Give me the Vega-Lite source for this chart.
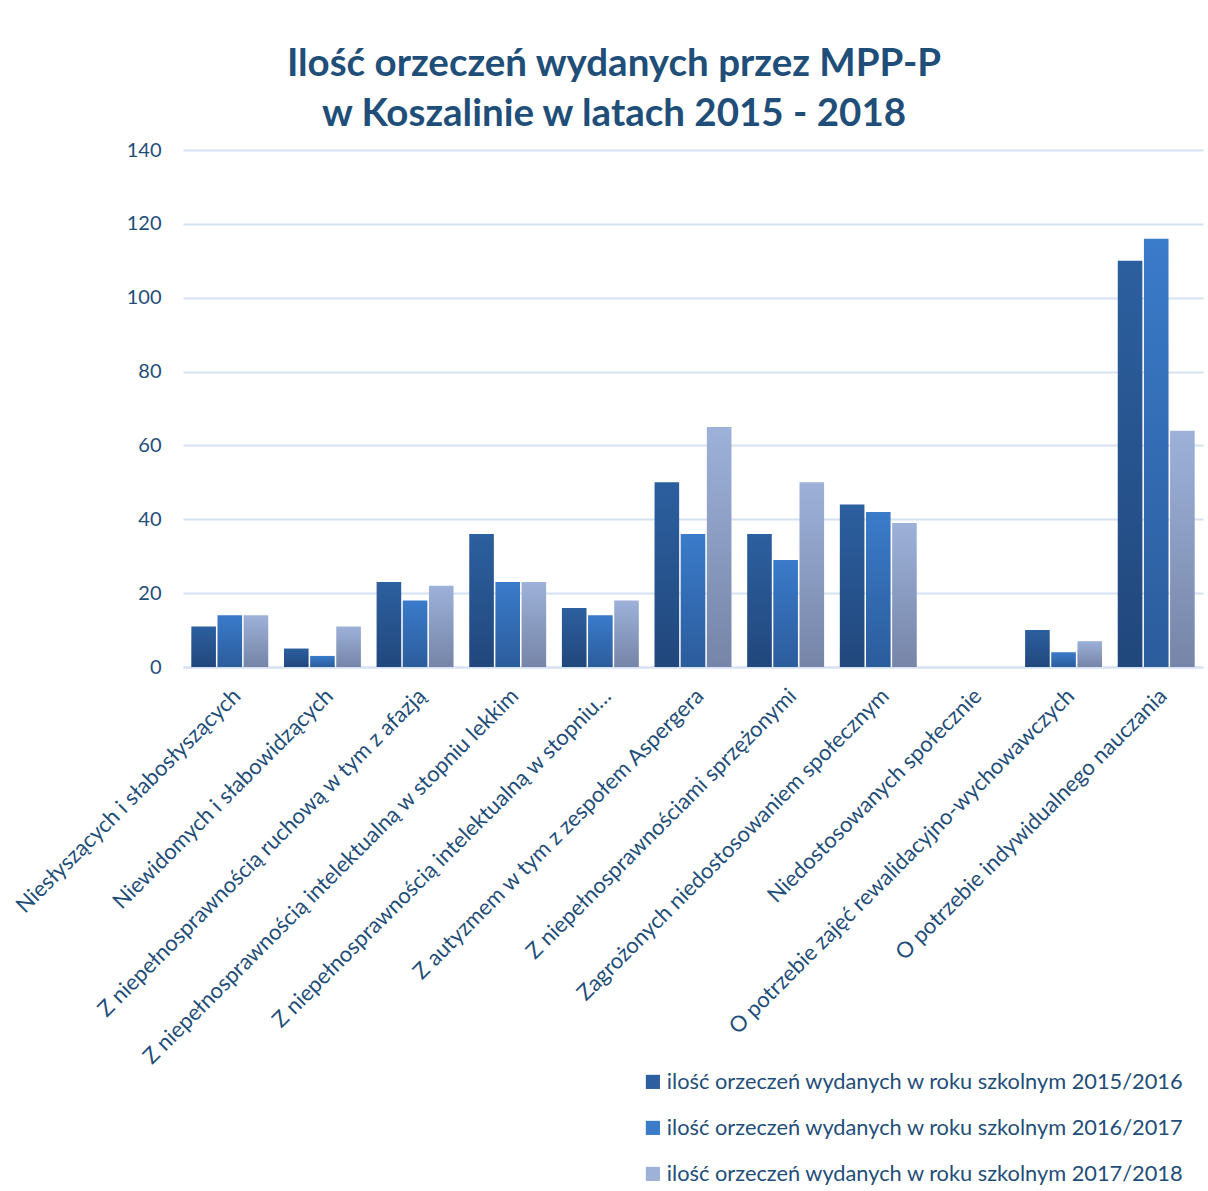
{
  "$schema": "https://vega.github.io/schema/vega-lite/v6.json",
  "autosize": {"type": "none"},
  "width": 1020,
  "height": 517,
  "padding": {"left": 183, "top": 150, "right": 5, "bottom": 524},
  "background": "white",
  "title": {
    "text": ["Ilość orzeczeń wydanych przez MPP-P", "w Koszalinie w latach 2015 - 2018"],
    "font": "Lato",
    "fontSize": 38.5,
    "fontWeight": "bold",
    "color": "#1F4E79",
    "lineHeight": 50,
    "anchor": "middle",
    "frame": "group",
    "dx": -79,
    "offset": 6
  },
  "data": {
    "values": [
      {"kategoria": "Niesłyszących i słabosłyszących", "rok": "ilość orzeczeń wydanych w roku szkolnym 2015/2016", "wartosc": 11},
      {"kategoria": "Niesłyszących i słabosłyszących", "rok": "ilość orzeczeń wydanych w roku szkolnym 2016/2017", "wartosc": 14},
      {"kategoria": "Niesłyszących i słabosłyszących", "rok": "ilość orzeczeń wydanych w roku szkolnym 2017/2018", "wartosc": 14},
      {"kategoria": "Niewidomych i słabowidzących", "rok": "ilość orzeczeń wydanych w roku szkolnym 2015/2016", "wartosc": 5},
      {"kategoria": "Niewidomych i słabowidzących", "rok": "ilość orzeczeń wydanych w roku szkolnym 2016/2017", "wartosc": 3},
      {"kategoria": "Niewidomych i słabowidzących", "rok": "ilość orzeczeń wydanych w roku szkolnym 2017/2018", "wartosc": 11},
      {"kategoria": "Z niepełnosprawnością ruchową w tym z afazją", "rok": "ilość orzeczeń wydanych w roku szkolnym 2015/2016", "wartosc": 23},
      {"kategoria": "Z niepełnosprawnością ruchową w tym z afazją", "rok": "ilość orzeczeń wydanych w roku szkolnym 2016/2017", "wartosc": 18},
      {"kategoria": "Z niepełnosprawnością ruchową w tym z afazją", "rok": "ilość orzeczeń wydanych w roku szkolnym 2017/2018", "wartosc": 22},
      {"kategoria": "Z niepełnosprawnością intelektualną w stopniu lekkim", "rok": "ilość orzeczeń wydanych w roku szkolnym 2015/2016", "wartosc": 36},
      {"kategoria": "Z niepełnosprawnością intelektualną w stopniu lekkim", "rok": "ilość orzeczeń wydanych w roku szkolnym 2016/2017", "wartosc": 23},
      {"kategoria": "Z niepełnosprawnością intelektualną w stopniu lekkim", "rok": "ilość orzeczeń wydanych w roku szkolnym 2017/2018", "wartosc": 23},
      {"kategoria": "Z niepełnosprawnością intelektualną w stopniu…", "rok": "ilość orzeczeń wydanych w roku szkolnym 2015/2016", "wartosc": 16},
      {"kategoria": "Z niepełnosprawnością intelektualną w stopniu…", "rok": "ilość orzeczeń wydanych w roku szkolnym 2016/2017", "wartosc": 14},
      {"kategoria": "Z niepełnosprawnością intelektualną w stopniu…", "rok": "ilość orzeczeń wydanych w roku szkolnym 2017/2018", "wartosc": 18},
      {"kategoria": "Z autyzmem w tym z zespołem Aspergera", "rok": "ilość orzeczeń wydanych w roku szkolnym 2015/2016", "wartosc": 50},
      {"kategoria": "Z autyzmem w tym z zespołem Aspergera", "rok": "ilość orzeczeń wydanych w roku szkolnym 2016/2017", "wartosc": 36},
      {"kategoria": "Z autyzmem w tym z zespołem Aspergera", "rok": "ilość orzeczeń wydanych w roku szkolnym 2017/2018", "wartosc": 65},
      {"kategoria": "Z niepełnosprawnościami sprzężonymi", "rok": "ilość orzeczeń wydanych w roku szkolnym 2015/2016", "wartosc": 36},
      {"kategoria": "Z niepełnosprawnościami sprzężonymi", "rok": "ilość orzeczeń wydanych w roku szkolnym 2016/2017", "wartosc": 29},
      {"kategoria": "Z niepełnosprawnościami sprzężonymi", "rok": "ilość orzeczeń wydanych w roku szkolnym 2017/2018", "wartosc": 50},
      {"kategoria": "Zagrożonych niedostosowaniem społecznym", "rok": "ilość orzeczeń wydanych w roku szkolnym 2015/2016", "wartosc": 44},
      {"kategoria": "Zagrożonych niedostosowaniem społecznym", "rok": "ilość orzeczeń wydanych w roku szkolnym 2016/2017", "wartosc": 42},
      {"kategoria": "Zagrożonych niedostosowaniem społecznym", "rok": "ilość orzeczeń wydanych w roku szkolnym 2017/2018", "wartosc": 39},
      {"kategoria": "Niedostosowanych społecznie", "rok": "ilość orzeczeń wydanych w roku szkolnym 2015/2016", "wartosc": 0},
      {"kategoria": "Niedostosowanych społecznie", "rok": "ilość orzeczeń wydanych w roku szkolnym 2016/2017", "wartosc": 0},
      {"kategoria": "Niedostosowanych społecznie", "rok": "ilość orzeczeń wydanych w roku szkolnym 2017/2018", "wartosc": 0},
      {"kategoria": "O potrzebie zajęć rewalidacyjno-wychowawczych", "rok": "ilość orzeczeń wydanych w roku szkolnym 2015/2016", "wartosc": 10},
      {"kategoria": "O potrzebie zajęć rewalidacyjno-wychowawczych", "rok": "ilość orzeczeń wydanych w roku szkolnym 2016/2017", "wartosc": 4},
      {"kategoria": "O potrzebie zajęć rewalidacyjno-wychowawczych", "rok": "ilość orzeczeń wydanych w roku szkolnym 2017/2018", "wartosc": 7},
      {"kategoria": "O potrzebie indywidualnego nauczania", "rok": "ilość orzeczeń wydanych w roku szkolnym 2015/2016", "wartosc": 110},
      {"kategoria": "O potrzebie indywidualnego nauczania", "rok": "ilość orzeczeń wydanych w roku szkolnym 2016/2017", "wartosc": 116},
      {"kategoria": "O potrzebie indywidualnego nauczania", "rok": "ilość orzeczeń wydanych w roku szkolnym 2017/2018", "wartosc": 64}
    ]
  },
  "encoding": {
    "x": {
      "field": "kategoria",
      "type": "nominal",
      "sort": null,
      "title": null,
      "scale": {"paddingInner": 0.17, "paddingOuter": 0.09},
      "axis": {
        "labelAngle": -45,
        "labelFont": "Lato",
        "labelFontSize": 22,
        "labelColor": "#1F4E79",
        "labelLimit": 0,
        "labelPadding": 18,
        "ticks": false,
        "domainColor": "#D5E2F2",
        "domainWidth": 2
      }
    },
    "xOffset": {
      "field": "rok",
      "type": "nominal",
      "scale": {"paddingInner": 0.06}
    },
    "y": {
      "field": "wartosc",
      "type": "quantitative",
      "title": null,
      "scale": {"domain": [0, 140]},
      "axis": {
        "values": [0, 20, 40, 60, 80, 100, 120, 140],
        "labelFont": "Lato",
        "labelFontSize": 20,
        "labelColor": "#1F4E79",
        "labelPadding": 22,
        "ticks": false,
        "domain": false,
        "gridColor": "#D5E2F2",
        "gridWidth": 2
      }
    }
  },
  "layer": [
    {
      "mark": {"type": "bar"},
      "encoding": {
        "color": {
          "field": "rok",
          "type": "nominal",
          "title": null,
          "scale": {"range": ["#2C5F9F", "#3A7BCA", "#9DB1D9"]},
          "legend": {
            "orient": "none",
            "legendX": 459,
            "legendY": 921,
            "direction": "vertical",
            "symbolType": "square",
            "symbolSize": 200,
            "symbolStrokeWidth": 0,
            "labelFont": "Lato",
            "labelFontSize": 21.8,
            "labelColor": "#1F4E79",
            "labelLimit": 0,
            "rowPadding": 23,
            "labelOffset": 3
          }
        }
      }
    },
    {
      "mark": {
        "type": "bar",
        "fill": {
          "gradient": "linear",
          "x1": 0, "y1": 0, "x2": 0, "y2": 1,
          "stops": [
            {"offset": 0, "color": "rgba(0,0,20,0)"},
            {"offset": 1, "color": "rgba(0,0,20,0.25)"}
          ]
        }
      },
      "encoding": {}
    }
  ],
  "config": {
    "view": {"stroke": null}
  }
}
